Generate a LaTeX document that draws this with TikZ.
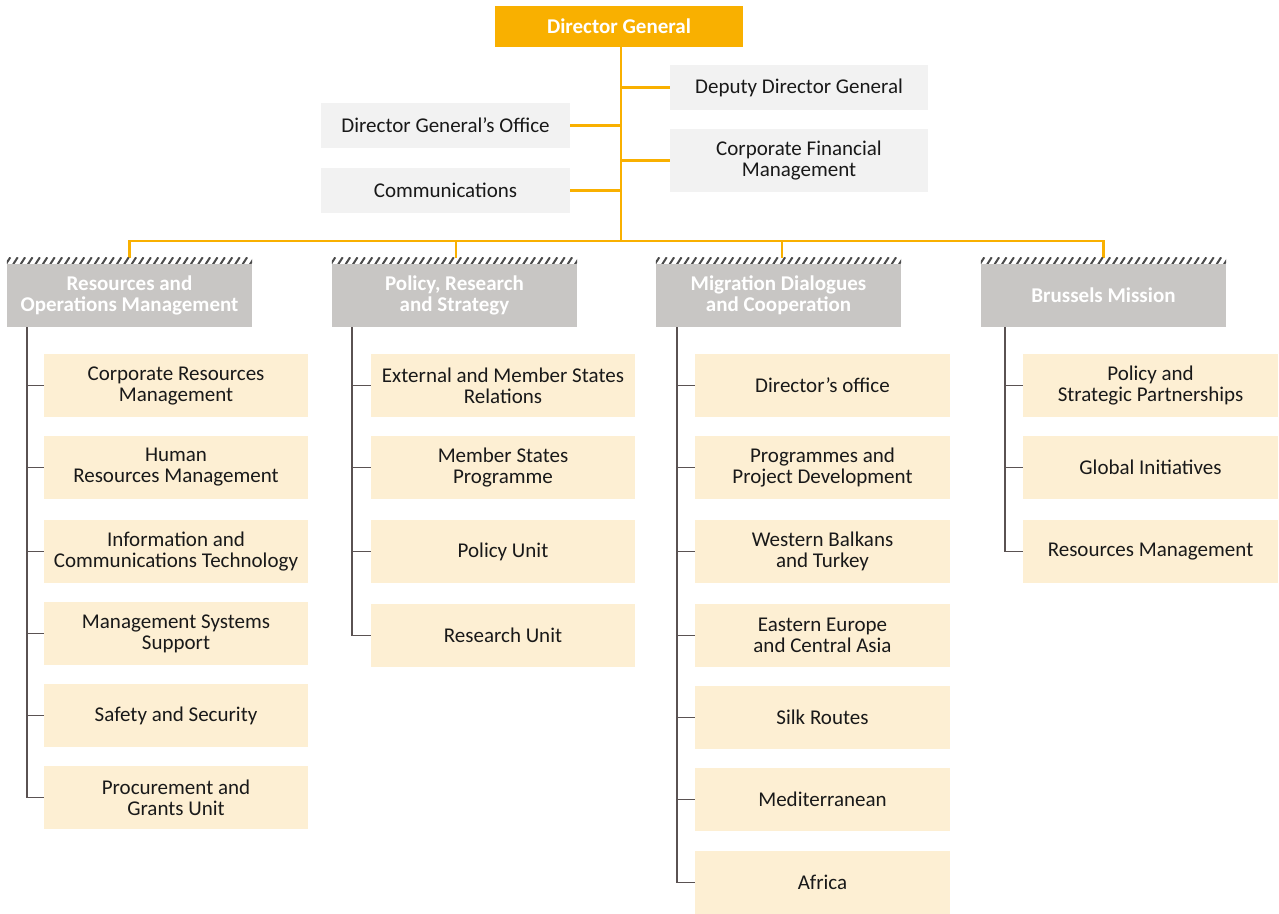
\documentclass[tikz,border=0pt]{standalone}
\usepackage{fontspec}
\setmainfont{Carlito}
\definecolor{dgorange}{HTML}{F9B000}
\definecolor{staffgray}{HTML}{F2F2F2}
\definecolor{deptgray}{HTML}{C8C6C4}
\definecolor{unitcream}{HTML}{FDEFD3}
\definecolor{branchline}{HTML}{5A5252}
\definecolor{hatchcol}{HTML}{4A4A4A}
\begin{document}
\begin{tikzpicture}[x=1pt,y=-1pt,
  base/.style={inner sep=0pt, align=center, font=\fontsize{21}{21}\selectfont, text=black!90},
  topbox/.style={base, fill=dgorange, text=white, font=\fontsize{21}{21}\selectfont\bfseries, minimum width=248pt, minimum height=41pt},
  staffbox/.style={base, fill=staffgray, minimum width=249pt, minimum height=45pt},
  deptbox/.style={base, fill=deptgray, text=white, font=\fontsize{21}{21}\selectfont\bfseries, minimum width=245pt, minimum height=63pt},
  unitbox/.style={base, fill=unitcream, minimum height=63pt},
  unitA/.style={unitbox, minimum width=264pt},
  unitB/.style={unitbox, minimum width=255pt},
  orangeline/.style={draw=dgorange, line width=2.2pt},
  greyline/.style={draw=branchline, line width=1.6pt},
]
\useasboundingbox (0,0) rectangle (1279,913);
\fill[white] (0,0) rectangle (1279,913);

% top level
\node[topbox] (dg) at (619,26.5) {Director General};
\node[staffbox, minimum width=258pt] (ddg) at (799,87.5) {Deputy Director General};
\node[staffbox, minimum width=258pt, minimum height=63pt] (cfm) at (799,160.5) {Corporate Financial\\Management};
\node[staffbox] (dgo) at (445.5,125.5) {Director General’s Office};
\node[staffbox] (com) at (445.5,190.5) {Communications};

\coordinate (trunk) at (621,241);

% departments
\node[deptbox] (g1) at (129.5,295.5) {Resources and\\Operations Management};
\node[deptbox] (g2) at (454.5,295.5) {Policy, Research\\and Strategy};
\node[deptbox] (g3) at (778.5,295.5) {Migration Dialogues\\and Cooperation};
\node[deptbox] (g4) at (1103.5,295.5) {Brussels Mission};

% drop points on the horizontal bar
\coordinate (d2) at (456,241);
\coordinate (d3) at (782,241);

% orange connectors
\draw[orangeline] (dg.south -| trunk) -- (trunk);
\draw[orangeline] (ddg.west) -- (ddg.west -| trunk);
\draw[orangeline] (cfm.west) -- (cfm.west -| trunk);
\draw[orangeline] (dgo.east) -- (dgo.east -| trunk);
\draw[orangeline] (com.east) -- (com.east -| trunk);
\draw[orangeline] (g1.north) |- (trunk) -| (g4.north);
\draw[orangeline] (d2) -- (d2 |- g2.north);
\draw[orangeline] (d3) -- (d3 |- g3.north);

% hatched strips above the department boxes
\foreach \g in {g1,g2,g3,g4}{
  \fill[white] (\g.north west) rectangle ([yshift=6pt]\g.north east);
  \begin{scope}
    \clip (\g.north west) rectangle ([yshift=6pt]\g.north east);
    \foreach \k in {0,...,33}{
      \draw[hatchcol, line width=2pt] ([xshift={\k*7.4pt-1pt}, yshift=-0.5pt]\g.north west) -- ([xshift={\k*7.4pt+3.5pt}, yshift=6.5pt]\g.north west);
    }
  \end{scope}
}

% column 1
\node[unitA] (a1) at (176,385.5) {Corporate Resources\\Management};
\node[unitA] (a2) at (176,467.5) {Human\\Resources Management};
\node[unitA] (a3) at (176,551.5) {Information and\\Communications Technology};
\node[unitA] (a4) at (176,633.5) {Management Systems\\Support};
\node[unitA] (a5) at (176,715.5) {Safety and Security};
\node[unitA] (a6) at (176,797.5) {Procurement and\\Grants Unit};
\coordinate (v1) at (27,0);
\draw[greyline] (g1.south -| v1) |- (a6.west);
\foreach \u in {a1,a2,a3,a4,a5}{\draw[greyline] (\u.west -| v1) -- (\u.west);}

% column 2
\node[unitA] (b1) at (503,385.5) {External and Member States\\Relations};
\node[unitA] (b2) at (503,467.5) {Member States\\Programme};
\node[unitA] (b3) at (503,551.5) {Policy Unit};
\node[unitA] (b4) at (503,635.5) {Research Unit};
\coordinate (v2) at (352,0);
\draw[greyline] (g2.south -| v2) |- (b4.west);
\foreach \u in {b1,b2,b3}{\draw[greyline] (\u.west -| v2) -- (\u.west);}

% column 3
\node[unitB] (m1) at (822.5,385.5) {Director’s office};
\node[unitB] (m2) at (822.5,467.5) {Programmes and\\Project Development};
\node[unitB] (m3) at (822.5,551.5) {Western Balkans\\and Turkey};
\node[unitB] (m4) at (822.5,635.5) {Eastern Europe\\and Central Asia};
\node[unitB] (m5) at (822.5,717.5) {Silk Routes};
\node[unitB] (m6) at (822.5,799.5) {Mediterranean};
\node[unitB] (m7) at (822.5,882.5) {Africa};
\coordinate (v3) at (677,0);
\draw[greyline] (g3.south -| v3) |- (m7.west);
\foreach \u in {m1,m2,m3,m4,m5,m6}{\draw[greyline] (\u.west -| v3) -- (\u.west);}

% column 4
\node[unitB] (r1) at (1150.5,385.5) {Policy and\\Strategic Partnerships};
\node[unitB] (r2) at (1150.5,467.5) {Global Initiatives};
\node[unitB] (r3) at (1150.5,551.5) {Resources Management};
\coordinate (v4) at (1005,0);
\draw[greyline] (g4.south -| v4) |- (r3.west);
\foreach \u in {r1,r2}{\draw[greyline] (\u.west -| v4) -- (\u.west);}
\end{tikzpicture}
\end{document}
